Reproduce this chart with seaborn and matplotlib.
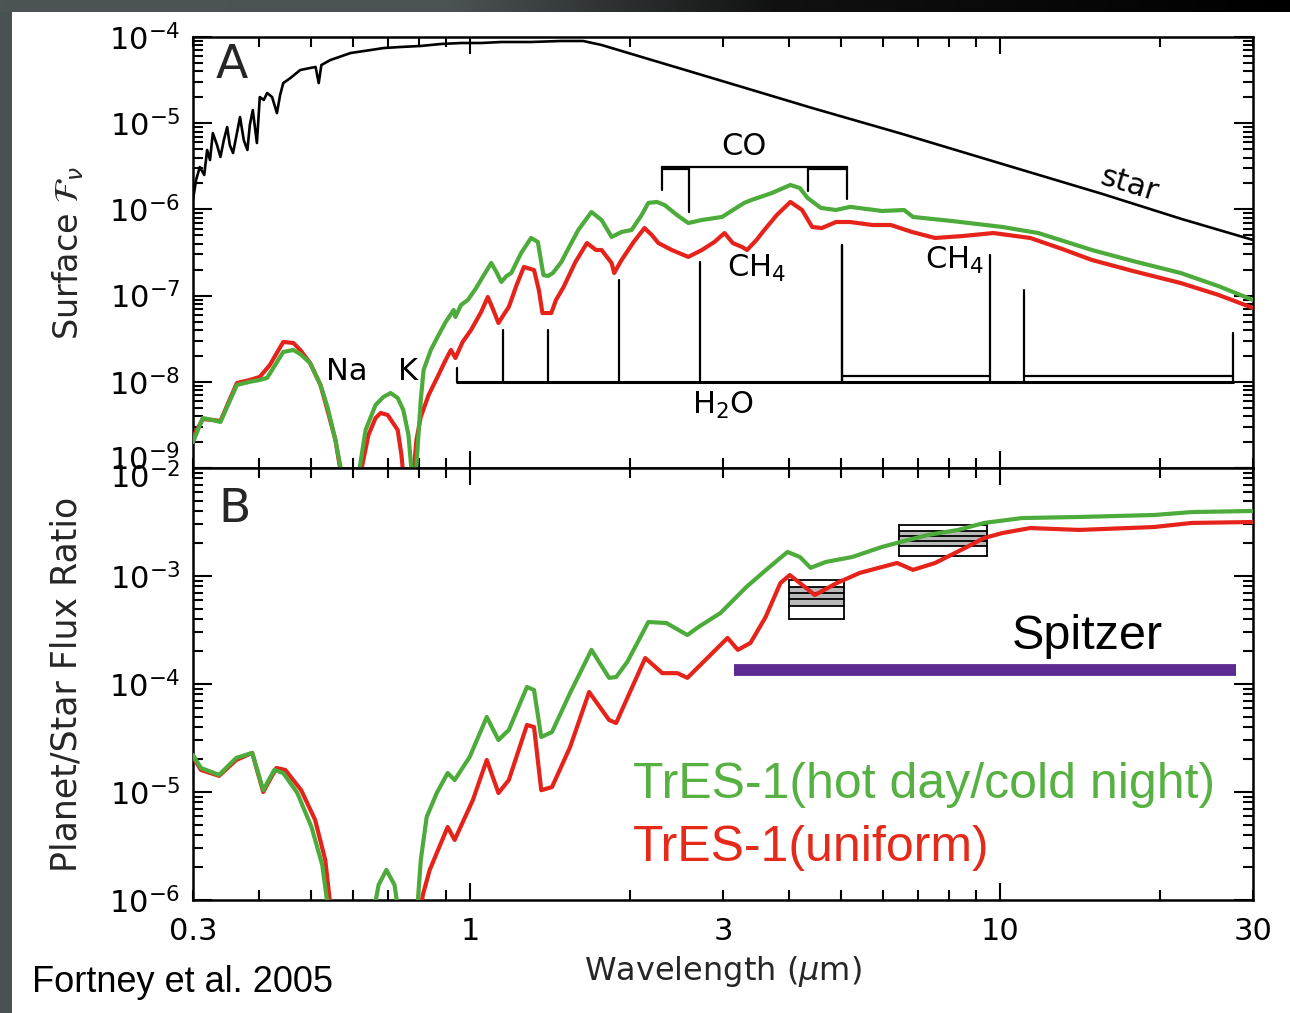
import numpy as np
import pandas as pd
import matplotlib
matplotlib.use("Agg")
import matplotlib.pyplot as plt
import seaborn as sns
from matplotlib.ticker import FixedLocator, NullFormatter, FuncFormatter, LogFormatterMathtext, LogLocator
from matplotlib.patches import Rectangle
from matplotlib.colors import LinearSegmentedColormap
from matplotlib.transforms import ScaledTranslation

# ---------------- data (wavelength in micron) ----------------
star_a = [(0.300, 1.29e-6), (0.304, 2.19e-6), (0.309, 3.10e-6), (0.315, 2.51e-6), (0.319, 4.89e-6),
          (0.323, 3.74e-6), (0.327, 7.69e-6), (0.333, 5.58e-6), (0.338, 4.06e-6), (0.343, 6.38e-6),
          (0.348, 9.03e-6), (0.352, 5.58e-6), (0.357, 4.51e-6), (0.364, 8.33e-6), (0.368, 1.18e-5),
          (0.374, 6.38e-6), (0.380, 4.89e-6), (0.384, 9.53e-6), (0.389, 1.42e-5), (0.396, 5.89e-6),
          (0.401, 2.01e-5), (0.408, 1.86e-5), (0.414, 2.24e-5), (0.423, 2.01e-5), (0.432, 1.31e-5),
          (0.438, 2.12e-5), (0.444, 2.92e-5), (0.458, 3.34e-5), (0.478, 4.14e-5), (0.499, 4.37e-5),
          (0.511, 4.49e-5), (0.518, 2.92e-5), (0.524, 4.73e-5), (0.545, 5.41e-5), (0.595, 6.52e-5),
          (0.649, 7.06e-5), (0.687, 7.45e-5), (0.740, 7.66e-5), (0.807, 7.87e-5), (0.881, 8.30e-5),
          (0.961, 8.52e-5), (1.049, 8.52e-5), (1.145, 8.75e-5), (1.303, 8.75e-5), (1.486, 8.99e-5),
          (1.634, 8.99e-5), (1.770, 8.08e-5), (2.107, 5.86e-5), (2.473, 4.37e-5), (3.26, 2.63e-5),
          (4.42, 1.50e-5), (6.54, 7.50e-6), (10.1, 3.36e-6), (15.6, 1.51e-6), (22.0, 7.74e-7),
          (30.0, 4.42e-7)]

hot_day_a = [(0.300, 2.00e-9), (0.313, 3.80e-9), (0.326, 3.61e-9), (0.338, 3.42e-9), (0.363, 9.18e-9),
             (0.384, 1.00e-8), (0.401, 1.05e-8), (0.414, 1.11e-8), (0.444, 2.22e-8), (0.464, 2.34e-8),
             (0.478, 2.10e-8), (0.499, 1.65e-8), (0.522, 9.18e-9), (0.538, 5.11e-9), (0.557, 2.11e-9),
             (0.582, 5e-10), (0.608, 5e-10), (0.635, 2.76e-9), (0.663, 5.38e-9), (0.686, 6.67e-9),
             (0.708, 7.41e-9), (0.730, 6.49e-9), (0.748, 4.71e-9), (0.765, 2.42e-9), (0.782, 5e-10),
             (0.792, 1.08e-9), (0.807, 6.15e-9), (0.817, 1.37e-8), (0.843, 2.34e-8), (0.868, 3.31e-8),
             (0.899, 4.94e-8), (0.931, 6.81e-8), (0.938, 5.65e-8), (0.961, 7.78e-8), (0.990, 8.89e-8),
             (1.026, 1.22e-7), (1.059, 1.69e-7), (1.096, 2.39e-7), (1.121, 1.88e-7), (1.145, 1.44e-7),
             (1.172, 1.69e-7), (1.196, 1.83e-7), (1.248, 3.12e-7), (1.303, 4.66e-7), (1.342, 4.19e-7),
             (1.375, 1.73e-7), (1.403, 1.69e-7), (1.433, 1.83e-7), (1.486, 2.45e-7), (1.527, 3.38e-7),
             (1.600, 5.77e-7), (1.694, 9.33e-7), (1.770, 7.54e-7), (1.849, 4.79e-7), (1.931, 5.47e-7),
             (2.017, 5.77e-7), (2.107, 8.61e-7), (2.169, 1.19e-6), (2.251, 1.22e-6), (2.330, 1.12e-6),
             (2.456, 8.61e-7), (2.580, 6.95e-7), (2.737, 7.54e-7), (2.987, 8.17e-7), (3.29, 1.19e-6),
             (3.40, 1.29e-6), (3.71, 1.55e-6), (4.02, 1.92e-6), (4.19, 1.77e-6), (4.33, 1.36e-6),
             (4.59, 1.04e-6), (4.90, 9.84e-7), (5.21, 1.07e-6), (5.99, 9.58e-7), (6.59, 9.84e-7),
             (6.85, 8.17e-7), (8.12, 7.33e-7), (10.1, 6.25e-7), (11.8, 5.32e-7), (14.9, 3.38e-7),
             (17.8, 2.52e-7), (21.9, 1.83e-7), (25.8, 1.29e-7), (30.0, 8.89e-8)]

uniform_a = [(0.300, 2.29e-9), (0.313, 3.70e-9), (0.326, 3.61e-9), (0.338, 3.51e-9), (0.363, 9.68e-9),
             (0.384, 1.05e-8), (0.401, 1.14e-8), (0.419, 1.57e-8), (0.444, 2.90e-8), (0.464, 2.82e-8),
             (0.478, 2.34e-8), (0.499, 1.65e-8), (0.522, 9.18e-9), (0.538, 4.71e-9), (0.557, 2.11e-9),
             (0.579, 5e-10), (0.610, 5e-10), (0.643, 2.42e-9), (0.663, 3.80e-9), (0.678, 4.35e-9),
             (0.699, 4.12e-9), (0.730, 2.76e-9), (0.742, 1.42e-9), (0.754, 5e-10), (0.776, 5e-10),
             (0.792, 2.11e-9), (0.807, 3.91e-9), (0.835, 7.03e-9), (0.868, 1.14e-8), (0.899, 1.79e-8),
             (0.920, 2.34e-8), (0.938, 1.89e-8), (0.968, 2.90e-8), (1.004, 3.99e-8), (1.049, 6.46e-8),
             (1.080, 9.63e-8), (1.106, 6.81e-8), (1.131, 4.81e-8), (1.156, 5.96e-8), (1.183, 7.38e-8),
             (1.224, 1.33e-7), (1.263, 2.15e-7), (1.320, 1.98e-7), (1.348, 1.16e-7), (1.369, 6.28e-8),
             (1.423, 6.28e-8), (1.452, 8.89e-8), (1.501, 1.26e-7), (1.580, 2.45e-7), (1.661, 4.07e-7),
             (1.728, 3.38e-7), (1.770, 3.38e-7), (1.849, 2.39e-7), (1.870, 1.83e-7), (1.931, 2.59e-7),
             (2.035, 4.19e-7), (2.133, 6.08e-7), (2.201, 5.05e-7), (2.266, 4.07e-7), (2.401, 3.38e-7),
             (2.580, 2.81e-7), (2.737, 3.38e-7), (2.890, 4.19e-7), (3.02, 5.32e-7), (3.13, 4.07e-7),
             (3.26, 3.66e-7), (3.33, 3.38e-7), (3.47, 4.42e-7), (3.59, 5.77e-7), (3.79, 8.61e-7),
             (4.02, 1.22e-6), (4.23, 9.84e-7), (4.42, 6.25e-7), (4.61, 6.08e-7), (4.90, 7.14e-7),
             (5.21, 7.14e-7), (5.74, 6.59e-7), (6.22, 6.59e-7), (6.82, 5.47e-7), (7.54, 4.66e-7),
             (8.50, 4.91e-7), (9.71, 5.32e-7), (11.4, 4.66e-7), (13.1, 3.47e-7), (14.9, 2.59e-7),
             (17.8, 1.93e-7), (21.9, 1.40e-7), (25.8, 1.02e-7), (30.0, 7.18e-8)]

hot_day_b = [(0.300, 2.20e-5), (0.3105, 1.67e-5), (0.336, 1.44e-5), (0.362, 2.07e-5), (0.388, 2.30e-5),
             (0.407, 1.04e-5), (0.427, 1.60e-5), (0.444, 1.50e-5), (0.472, 9.79e-6), (0.502, 4.74e-6),
             (0.526, 2.11e-6), (0.547, 5e-7), (0.646, 5e-7), (0.672, 1.38e-6), (0.695, 1.90e-6),
             (0.720, 1.38e-6), (0.742, 5e-7), (0.789, 5e-7), (0.807, 2.34e-6), (0.828, 5.87e-6),
             (0.865, 9.79e-6), (0.907, 1.50e-5), (0.935, 1.29e-5), (0.998, 2.11e-5), (1.075, 4.95e-5),
             (1.131, 3.03e-5), (1.183, 3.75e-5), (1.280, 9.38e-5), (1.320, 8.80e-5), (1.362, 3.23e-5),
             (1.427, 3.59e-5), (1.544, 8.26e-5), (1.694, 2.07e-4), (1.829, 1.14e-4), (1.886, 1.16e-4),
             (1.979, 1.60e-4), (2.169, 3.75e-4), (2.346, 3.67e-4), (2.570, 2.84e-4), (2.696, 3.37e-4),
             (2.967, 4.54e-4), (3.32, 7.91e-4), (3.67, 1.21e-3), (3.97, 1.67e-3), (4.19, 1.50e-3),
             (4.39, 1.19e-3), (4.69, 1.35e-3), (5.26, 1.50e-3), (5.99, 1.86e-3), (6.50, 2.07e-3),
             (7.31, 2.40e-3), (8.33, 2.67e-3), (9.33, 3.10e-3), (11.0, 3.44e-3), (14.1, 3.52e-3),
             (19.5, 3.67e-3), (23.0, 3.91e-3), (30.0, 4.00e-3)]

uniform_b = [(0.300, 2.11e-5), (0.3105, 1.60e-5), (0.336, 1.41e-5), (0.362, 1.98e-5), (0.388, 2.30e-5),
             (0.407, 1.00e-5), (0.431, 1.67e-5), (0.448, 1.60e-5), (0.480, 1.04e-5), (0.510, 5.51e-6),
             (0.533, 2.34e-6), (0.552, 5e-7), (0.799, 5e-7), (0.814, 1.11e-6), (0.839, 1.90e-6),
             (0.865, 2.72e-6), (0.907, 4.74e-6), (0.935, 3.60e-6), (1.012, 8.43e-6), (1.075, 1.98e-5),
             (1.131, 9.79e-6), (1.183, 1.29e-5), (1.280, 4.17e-5), (1.320, 4.00e-5), (1.362, 1.04e-5),
             (1.427, 1.11e-5), (1.544, 2.61e-5), (1.677, 8.43e-5), (1.829, 4.64e-5), (1.886, 4.35e-5),
             (1.945, 6.12e-5), (2.140, 1.74e-4), (2.305, 1.26e-4), (2.461, 1.26e-4), (2.570, 1.14e-4),
             (2.696, 1.44e-4), (3.06, 2.67e-4), (3.20, 2.07e-4), (3.38, 2.40e-4), (3.61, 4.17e-4),
             (3.85, 8.61e-4), (4.01, 1.02e-3), (4.19, 8.61e-4), (4.47, 6.67e-4), (4.92, 8.61e-4),
             (5.44, 1.07e-3), (6.39, 1.32e-3), (6.85, 1.14e-3), (7.54, 1.32e-3), (8.59, 1.82e-3),
             (9.33, 2.25e-3), (10.1, 2.50e-3), (11.4, 2.78e-3), (14.1, 2.67e-3), (19.5, 2.84e-3),
             (23.0, 3.10e-3), (30.0, 3.16e-3)]

# Spitzer eclipse measurements (band edges, ratio, 1-sigma)
spitzer_lo = [4.00, 6.44]
spitzer_hi = [5.07, 9.45]
spitzer_ratio = [6.6e-4, 2.25e-3]
spitzer_err = [1.3e-4, 3.6e-4]
spitzer_cover = [3.15, 27.9]
spitzer_cover_level = 1.35e-4

# absorber markers (panel A)
h2o_band_x = [0.944, 1.153, 1.403, 1.911, 2.71, 5.03]
h2o_band_top = [1.45e-8, 3.99e-8, 3.99e-8, 1.52e-7, 2.45e-7, 3.86e-7]
h2o_base = (0.944, 27.5, 1.0e-8)
ch4_brackets = [(5.03, 9.58, 3.86e-7, 2.96e-7), (11.1, 27.5, 1.16e-7, 3.68e-8)]
bracket_level = 1.17e-8
co_x = [2.30, 2.59, 4.34, 5.14]
co_bottom = [1.68e-6, 9.33e-7, 1.65e-6, 1.32e-6]
co_level = 3.10e-6
co_level2 = 2.94e-6

x_label_vals = [0.3, 1, 3, 10, 30]
x_label_txt = ["0.3", "1", "3", "10", "30"]
x_minor = [0.3, 0.4, 0.5, 0.6, 0.7, 0.8, 0.9, 2, 3, 4, 5, 6, 7, 8, 9, 20, 30]
x_major = [1, 10]
ya_major = [1e-9, 1e-8, 1e-7, 1e-6, 1e-5, 1e-4]
yb_major = [1e-6, 1e-5, 1e-4, 1e-3, 1e-2]

GREEN = "#4cab3a"
RED = "#e5231a"
PURPLE = "#5b2b91"

# ---------------- style ----------------
sns.set_style("ticks")
plt.rcParams["font.family"] = ["DejaVu Sans"]
plt.rcParams["mathtext.fontset"] = "dejavusans"

fig = plt.figure(figsize=(12.9, 10.13), dpi=100)
fig.patch.set_facecolor("white")

# slide border decoration
strip = fig.add_axes([0, 1 - 12 / 1013, 1, 12 / 1013])
cmap = LinearSegmentedColormap.from_list(
    "strip", [(0, "#4d5456"), (0.35, "#4b5254"), (0.6, "#111111"), (1, "#000000")])
strip.imshow(np.linspace(0, 1, 512)[None, :], aspect="auto", cmap=cmap, extent=[0, 1, 0, 1])
strip.axis("off")
fig.add_artist(Rectangle((0, 0), 12 / 1290, 1, transform=fig.transFigure,
                         facecolor="#4a5153", edgecolor="none", zorder=0))

axA = fig.add_axes([193 / 1290, 1 - 468 / 1013, 1060 / 1290, 431 / 1013])
axB = fig.add_axes([193 / 1290, 1 - 900 / 1013, 1060 / 1290, 432 / 1013])

for ax in (axA, axB):
    ax.set_xscale("log")
    ax.set_yscale("log")
    ax.set_xlim(0.3, 30)
axA.set_ylim(1e-9, 1e-4)
axB.set_ylim(1e-6, 1e-2)


def df(pairs, name):
    return pd.DataFrame(pairs, columns=["wavelength", name])


# panel A curves
sns.lineplot(data=df(star_a, "flux"), x="wavelength", y="flux", ax=axA, color="black",
             linewidth=1.9, sort=False, estimator=None, zorder=3)
sns.lineplot(data=df(uniform_a, "flux"), x="wavelength", y="flux", ax=axA, color=RED,
             linewidth=3.0, sort=False, estimator=None, zorder=3)
sns.lineplot(data=df(hot_day_a, "flux"), x="wavelength", y="flux", ax=axA, color=GREEN,
             linewidth=3.0, sort=False, estimator=None, zorder=3.1)

# panel B curves
sns.lineplot(data=df(uniform_b, "ratio"), x="wavelength", y="ratio", ax=axB, color=RED,
             linewidth=3.0, sort=False, estimator=None, zorder=3)
sns.lineplot(data=df(hot_day_b, "ratio"), x="wavelength", y="ratio", ax=axB, color=GREEN,
             linewidth=3.0, sort=False, estimator=None, zorder=3.1)

# Spitzer measurement boxes
for lo, hi, v, e in zip(spitzer_lo, spitzer_hi, spitzer_ratio, spitzer_err):
    axB.fill_between([lo, hi], v - e, v + e, color="#b9b9b9", lw=0, zorder=1)
    for lev in (v - 2 * e, v - e, v - e / 3, v + e / 3, v + e, v + 2 * e):
        axB.plot([lo, hi], [lev, lev], color="black", lw=1.3, zorder=1.5)
    axB.plot([lo, lo], [v - 2 * e, v + 2 * e], color="black", lw=1.3, zorder=1.5)
    axB.plot([hi, hi], [v - 2 * e, v + 2 * e], color="black", lw=1.3, zorder=1.5)

axB.plot(spitzer_cover, [spitzer_cover_level] * 2, color=PURPLE, lw=8.5,
         solid_capstyle="butt", zorder=2)

# absorber markers panel A
lk = dict(color="black", lw=1.6, zorder=2)
axA.plot([h2o_base[0], h2o_base[1]], [h2o_base[2], h2o_base[2]], color="black", lw=2.2, zorder=2)
for x, top in zip(h2o_band_x, h2o_band_top):
    axA.plot([x, x], [h2o_base[2], top], **lk)
for x0, x1, t0, t1 in ch4_brackets:
    axA.plot([x0, x1], [bracket_level, bracket_level], **lk)
    axA.plot([x0, x0], [h2o_base[2], t0], **lk)
    axA.plot([x1, x1], [h2o_base[2], t1], **lk)
axA.plot([co_x[0], co_x[3]], [co_level, co_level], **lk)
axA.plot([co_x[0], co_x[1]], [co_level2, co_level2], **lk)
axA.plot([co_x[2], co_x[3]], [co_level2, co_level2], **lk)
for x, b in zip(co_x, co_bottom):
    axA.plot([x, x], [co_level, b], **lk)

tk = dict(fontsize=22, color="black")
axA.text(3.29, 5.3e-6, "CO", ha="center", va="center", **tk)
axA.text(3.47, 2.09e-7, "CH$_4$", ha="center", va="center", **tk)
axA.text(8.19, 2.59e-7, "CH$_4$", ha="center", va="center", **tk)
axA.text(3.0, 5.38e-9, "H$_2$O", ha="center", va="center", **tk)
axA.text(0.586, 1.30e-8, "Na", ha="center", va="center", **tk)
axA.text(0.762, 1.30e-8, "K", ha="center", va="center", **tk)
axA.text(17.5, 1.92e-6, "star", ha="center", va="center", rotation=-17,
         rotation_mode="anchor", **tk)

axA.text(0.021, 0.985, "A", transform=axA.transAxes, ha="left", va="top", fontsize=34)
axB.text(0.024, 0.957, "B", transform=axB.transAxes, ha="left", va="top", fontsize=34)

sf = dict(family=["Liberation Sans", "DejaVu Sans"])
axB.text(10.5, 2.78e-4, "Spitzer", ha="left", va="center", fontsize=35, color="black", **sf)
axB.text(2.03, 1.16e-5, "TrES-1(hot day/cold night)", ha="left", va="center",
         fontsize=36, color="#56b142", **sf)
axB.text(2.03, 3.03e-6, "TrES-1(uniform)", ha="left", va="center",
         fontsize=36, color="#e52a1a", **sf)
fig.text(32 / 1290, 1 - 992 / 1013, "Fortney et al. 2005", ha="left", va="baseline",
         fontsize=26, color="black", **sf)

# ---------------- axes / ticks ----------------
def xfmt(v, pos):
    for val, txt in zip(x_label_vals, x_label_txt):
        if abs(v - val) < 1e-6 * val:
            return txt
    return ""


for ax, ymaj in ((axA, ya_major), (axB, yb_major)):
    for s in ax.spines.values():
        s.set_linewidth(1.8)
        s.set_color("black")
    ax.xaxis.set_major_locator(FixedLocator(x_major))
    ax.xaxis.set_minor_locator(FixedLocator(x_minor))
    ax.yaxis.set_major_locator(FixedLocator(ymaj))
    ax.yaxis.set_minor_locator(LogLocator(base=10, subs=np.arange(2, 10) * 1.0, numticks=30))
    ax.yaxis.set_major_formatter(LogFormatterMathtext())
    ax.yaxis.set_minor_formatter(NullFormatter())
    ax.tick_params(which="both", direction="in", top=True, right=True, width=1.5,
                   color="black", labelcolor="black")
    ax.tick_params(axis="x", which="major", length=12.5, pad=12, labelsize=22)
    ax.tick_params(axis="x", which="minor", length=7, pad=12, labelsize=22)
    ax.tick_params(axis="y", which="major", length=14, pad=9, labelsize=22)
    ax.tick_params(axis="y", which="minor", length=7)
    ax.set_xlabel("")
    ax.set_ylabel("")
    ax.set_facecolor("white")

axA.xaxis.set_major_formatter(NullFormatter())
axA.xaxis.set_minor_formatter(NullFormatter())
axB.xaxis.set_major_formatter(FuncFormatter(xfmt))
axB.xaxis.set_minor_formatter(FuncFormatter(xfmt))

axA.set_ylabel("Surface $\\mathcal{F}_\\nu$", fontsize=24)
axA.yaxis.set_label_coords(-0.101, 0.5)
axB.set_ylabel("Planet/Star Flux Ratio", fontsize=25)
axB.yaxis.set_label_coords(-0.103, 0.5)
axB.set_xlabel("Wavelength ($\\mu$m)", fontsize=23)
axB.xaxis.set_label_coords(0.5, -0.125)

# offset the two labels that meet at the shared boundary (as in the original)
ta = axA.yaxis.get_major_ticks(len(ya_major))
lab = ta[0].label1
lab.set_transform(lab.get_transform() + ScaledTranslation(0, 11 / 100, fig.dpi_scale_trans))
tb = axB.yaxis.get_major_ticks(len(yb_major))
lab = tb[-1].label1
lab.set_transform(lab.get_transform() + ScaledTranslation(0, -7 / 100, fig.dpi_scale_trans))

fig.savefig("out.png", dpi=100, facecolor=fig.get_facecolor())
